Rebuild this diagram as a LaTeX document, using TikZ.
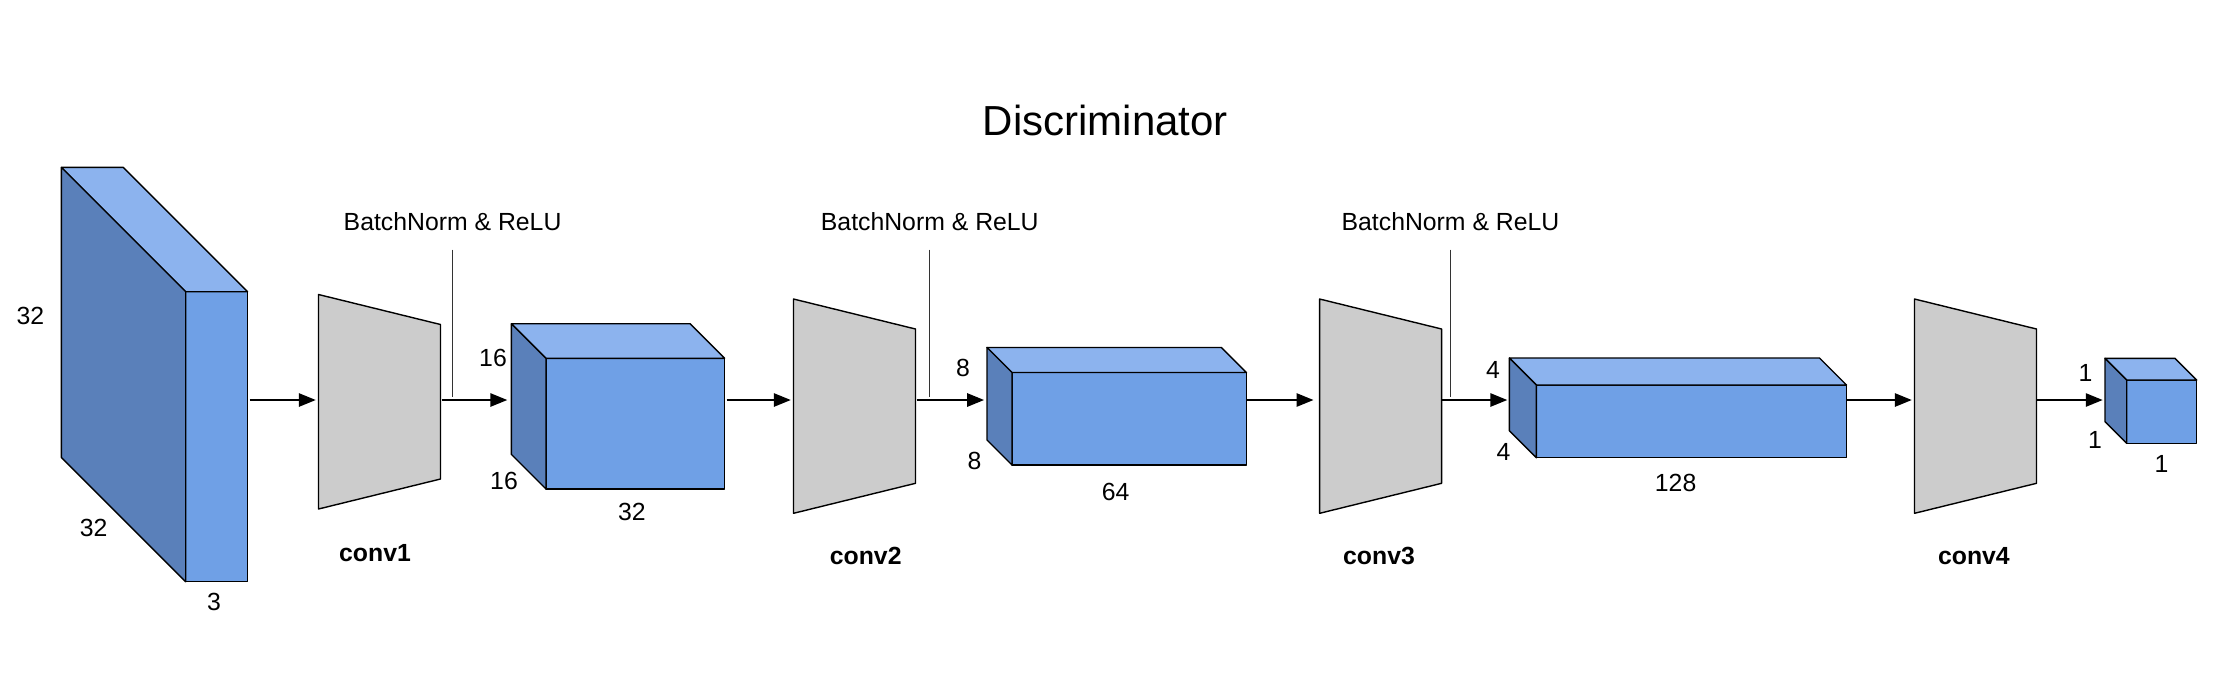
\documentclass[tikz,border=0pt]{standalone}
\usepackage{fontspec}
\setmainfont{Liberation Sans}
\usetikzlibrary{calc,arrows.meta}
\definecolor{ctop}{HTML}{8CB3EE}
\definecolor{cfront}{HTML}{6FA0E6}
\definecolor{cside}{HTML}{5A80BA}
\definecolor{cconv}{HTML}{CCCCCC}
\definecolor{cbn}{HTML}{333333}
\tikzset{
  face/.style={draw=black, line width=0.7pt, line join=round},
  frontface/.style={face, fill=cfront, inner sep=0pt, outer sep=0pt},
  convframe/.style={inner sep=0pt, outer sep=0pt, minimum width=61pt},
  arr/.style={line width=1.3pt, -{Triangle[length=8.5pt,width=6.5pt]}},
  bnline/.style={draw=cbn, line width=0.6pt},
  lbl/.style={font=\fontsize{12.4}{14}\selectfont, inner sep=0pt},
  convlbl/.style={font=\fontsize{12.4}{14}\selectfont\bfseries, inner sep=0pt},
  bnlbl/.style={font=\fontsize{12.4}{14}\selectfont, inner sep=0pt},
  titlelbl/.style={font=\fontsize{21}{24}\selectfont, inner sep=0pt}
}
% name, x1, y1, x2, y2, depth (pixel units, y downwards)
\newcommand\tdbox[6]{%
  \node[frontface, minimum width={(#4-#2)*0.5pt}, minimum height={(#5-#3)*0.5pt}, anchor=north west] (#1) at (#2,#3) {};
  \draw[face, fill=ctop] (#1.north west) -- ++(-#6,-#6) -- ($(#1.north east)+(-#6,-#6)$) -- (#1.north east) -- cycle;
  \draw[face, fill=cside] (#1.north west) -- ++(-#6,-#6) -- ($(#1.south west)+(-#6,-#6)$) -- (#1.south west) -- cycle;
  \coordinate (#1-back) at ($(#1.south west)+(-#6,-#6)$);
}
% name, xleft, ytop, ybottom
\newcommand\convblock[4]{%
  \node[convframe, minimum height={(#4-#3)*0.5pt}, anchor=north west] (#1) at (#2,#3) {};
  \draw[face, fill=cconv] (#1.north west) -- ($(#1.north east)+(0,30)$) -- ($(#1.south east)+(0,-30)$) -- (#1.south west) -- cycle;
}
\begin{document}
\begin{tikzpicture}[x=0.5pt, y=-0.5pt]
\useasboundingbox (0,0) rectangle (2218,682);
\coordinate (axis) at (0,400);

% title
\node[titlelbl] (title) at (1105.5,120) {Discriminator};

% data volumes
\tdbox{v0}{185.7}{291.7}{247.5}{581.7}{124.3}
\tdbox{v1}{546}{358.3}{724.6}{489}{34.6}
\tdbox{v2}{1012}{372.5}{1246.4}{465}{25}
\tdbox{v3}{1536.4}{385}{1846.5}{457.7}{27}
\tdbox{v4}{2126.7}{380}{2196.7}{443.3}{21.7}

% conv blocks
\convblock{c1}{318.5}{294.5}{509}
\convblock{c2}{793.5}{299}{513.3}
\convblock{c3}{1319.6}{299}{513.3}
\convblock{c4}{1914.5}{299}{513.3}

% arrows
\draw[arr, shorten <=1pt, shorten >=1.3pt] (v0.east |- axis) -- (c1.west |- axis);
\draw[arr, shorten <=0.5pt, shorten >=2pt] (c1.east |- axis) -- (v1-back |- axis);
\draw[arr, shorten <=1pt, shorten >=1.3pt] (v1.east |- axis) -- (c2.west |- axis);
\draw[arr, shorten <=0.5pt, shorten >=1.4pt] (c2.east |- axis) -- (v2-back |- axis);
\draw[arr, shorten <=0.3pt, shorten >=3pt] (v2.east |- axis) -- (c3.west |- axis);
\draw[arr, shorten <=0.3pt, shorten >=1pt] (c3.east |- axis) -- (v3-back |- axis);
\draw[arr, shorten <=0.3pt, shorten >=1.3pt] (v3.east |- axis) -- (c4.west |- axis);
\draw[arr, shorten <=0.3pt, shorten >=1.1pt] (c4.east |- axis) -- (v4-back |- axis);

% batchnorm labels
\node[bnlbl] (bn1) at (452.6,221.7) {BatchNorm \& ReLU};
\node[bnlbl] (bn2) at (929.8,221.7) {BatchNorm \& ReLU};
\node[bnlbl] (bn3) at (1450.5,221.7) {BatchNorm \& ReLU};
\draw[bnline] ([yshift=-14pt]bn1.center) -- ([yshift=1.7pt]bn1.center |- axis);
\draw[bnline] ([yshift=-14pt]bn2.center) -- ([yshift=1.7pt]bn2.center |- axis);
\draw[bnline] ([yshift=-14pt]bn3.center) -- ([yshift=1.7pt]bn3.center |- axis);

% conv labels
\node[convlbl] (l1) at (375,552.7) {conv1};
\node[convlbl] (l2) at (865.7,556) {conv2};
\node[convlbl] (l3) at (1379,556) {conv3};
\node[convlbl] (l4) at (1973.9,556) {conv4};

% dimension labels
\node[lbl] (d0a) at (30.4,316) {32};
\node[lbl] (d0b) at (93.6,528) {32};
\node[lbl] (d0c) at (214,601.7) {3};
\node[lbl] (d1a) at (493,358) {16};
\node[lbl] (d1b) at (504,480.5) {16};
\node[lbl] (d1c) at (631.8,512) {32};
\node[lbl] (d2a) at (962.9,367.7) {8};
\node[lbl] (d2b) at (974.6,461) {8};
\node[lbl] (d2c) at (1115.7,491.7) {64};
\node[lbl] (d3a) at (1492.9,370) {4};
\node[lbl] (d3b) at (1503.6,451.7) {4};
\node[lbl] (d3c) at (1675.6,482.7) {128};
\node[lbl] (d4a) at (2085.5,373.3) {1};
\node[lbl] (d4b) at (2095,440) {1};
\node[lbl] (d4c) at (2161.5,463.5) {1};
\end{tikzpicture}
\end{document}
